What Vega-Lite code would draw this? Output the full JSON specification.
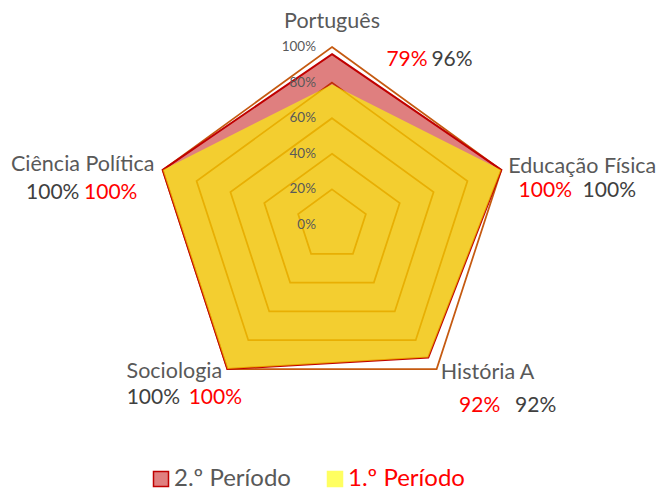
{
  "$schema": "https://vega.github.io/schema/vega-lite/v6.json",
  "width": 662,
  "height": 460,
  "padding": {"left": 0, "right": 0, "top": 0, "bottom": 32},
  "autosize": {"type": "none"},
  "background": "white",
  "config": {"view": {"stroke": null}, "font": "Lato"},
  "datasets": {
    "scores": [
      {"series": "2.º Período", "subject": "Português", "idx": 0, "value": 0.96},
      {"series": "2.º Período", "subject": "Educação Física", "idx": 1, "value": 1.0},
      {"series": "2.º Período", "subject": "História A", "idx": 2, "value": 0.92},
      {"series": "2.º Período", "subject": "Sociologia", "idx": 3, "value": 1.0},
      {"series": "2.º Período", "subject": "Ciência Política", "idx": 4, "value": 1.0},
      {"series": "1.º Período", "subject": "Português", "idx": 0, "value": 0.79},
      {"series": "1.º Período", "subject": "Educação Física", "idx": 1, "value": 1.0},
      {"series": "1.º Período", "subject": "História A", "idx": 2, "value": 0.92},
      {"series": "1.º Período", "subject": "Sociologia", "idx": 3, "value": 1.0},
      {"series": "1.º Período", "subject": "Ciência Política", "idx": 4, "value": 1.0}
    ],
    "grid": [
      {"level": 0.2, "idx": [0, 1, 2, 3, 4]},
      {"level": 0.4, "idx": [0, 1, 2, 3, 4]},
      {"level": 0.6, "idx": [0, 1, 2, 3, 4]},
      {"level": 0.8, "idx": [0, 1, 2, 3, 4]},
      {"level": 1.0, "idx": [0, 1, 2, 3, 4]}
    ],
    "ticks": [
      {"level": 0}, {"level": 0.2}, {"level": 0.4}, {"level": 0.6}, {"level": 0.8}, {"level": 1.0}
    ]
  },
  "layer": [
    {
      "data": {"name": "grid"},
      "transform": [
        {"flatten": ["idx"]},
        {"calculate": "datum.level*sin(2*PI*datum.idx/5)", "as": "x"},
        {"calculate": "datum.level*cos(2*PI*datum.idx/5)", "as": "y"}
      ],
      "mark": {"type": "line", "interpolate": "linear-closed", "stroke": "#C55A11", "strokeWidth": 1.75},
      "encoding": {
        "x": {"field": "x", "type": "quantitative", "scale": {"domain": [-1.86517, 1.85393], "nice": false, "zero": false}, "axis": null},
        "y": {"field": "y", "type": "quantitative", "scale": {"domain": [-1.32022, 1.26404], "nice": false, "zero": false}, "axis": null},
        "detail": {"field": "level"},
        "order": {"field": "idx"}
      }
    },
    {
      "data": {"name": "scores"},
      "transform": [
        {"filter": "datum.series == '2.º Período'"},
        {"calculate": "datum.value*sin(2*PI*datum.idx/5)", "as": "x"},
        {"calculate": "datum.value*cos(2*PI*datum.idx/5)", "as": "y"}
      ],
      "mark": {"type": "line", "interpolate": "linear-closed", "stroke": "#C00000", "strokeWidth": 2, "fill": "#C00000", "fillOpacity": 0.5},
      "encoding": {
        "x": {"field": "x", "type": "quantitative"},
        "y": {"field": "y", "type": "quantitative"},
        "order": {"field": "idx"}
      }
    },
    {
      "data": {"name": "scores"},
      "transform": [
        {"filter": "datum.series == '1.º Período'"},
        {"calculate": "datum.value*sin(2*PI*datum.idx/5)", "as": "x"},
        {"calculate": "datum.value*cos(2*PI*datum.idx/5)", "as": "y"}
      ],
      "mark": {"type": "line", "interpolate": "linear-closed", "stroke": null, "strokeWidth": 0, "fill": "#FFFF00", "fillOpacity": 0.62},
      "encoding": {
        "x": {"field": "x", "type": "quantitative"},
        "y": {"field": "y", "type": "quantitative"},
        "order": {"field": "idx"}
      }
    },
    {
      "data": {"name": "ticks"},
      "transform": [
        {"calculate": "0", "as": "x"},
        {"calculate": "datum.level", "as": "y"}
      ],
      "mark": {"type": "text", "align": "right", "baseline": "middle", "dx": -16, "fontSize": 13.5, "color": "#595959"},
      "encoding": {
        "x": {"field": "x", "type": "quantitative"},
        "y": {"field": "y", "type": "quantitative"},
        "text": {"field": "level", "type": "quantitative", "format": ".0%"}
      }
    },
    {
      "data": {"name": "scores"},
      "transform": [
        {"filter": "datum.series == '2.º Período'"},
        {"calculate": "sin(2*PI*datum.idx/5)", "as": "x"},
        {"calculate": "cos(2*PI*datum.idx/5)", "as": "y"}
      ],
      "mark": {"type": "text", "align": "center", "baseline": "middle", "fontSize": 21.5, "color": "#595959",
        "dx": {"expr": "[0,81,51,-53,-80][datum.idx]"},
        "dy": {"expr": "[-25,-3,4,3,-5][datum.idx]"}},
      "encoding": {
        "x": {"field": "x", "type": "quantitative"},
        "y": {"field": "y", "type": "quantitative"},
        "text": {"field": "subject"}
      }
    },
    {
      "data": {"name": "scores"},
      "transform": [
        {"filter": "datum.series == '1.º Período'"},
        {"calculate": "sin(2*PI*datum.idx/5)", "as": "x"},
        {"calculate": "cos(2*PI*datum.idx/5)", "as": "y"}
      ],
      "mark": {"type": "text", "align": "center", "baseline": "middle", "fontSize": 21, "color": "#FF0000",
        "dx": {"expr": "[75,44,43,-12,-52][datum.idx]"},
        "dy": {"expr": "[13,21,37,29,23][datum.idx]"}},
      "encoding": {
        "x": {"field": "x", "type": "quantitative"},
        "y": {"field": "y", "type": "quantitative"},
        "text": {"field": "value", "type": "quantitative", "format": ".0%"}
      }
    },
    {
      "data": {"name": "scores"},
      "transform": [
        {"filter": "datum.series == '2.º Período'"},
        {"calculate": "sin(2*PI*datum.idx/5)", "as": "x"},
        {"calculate": "cos(2*PI*datum.idx/5)", "as": "y"}
      ],
      "mark": {"type": "text", "align": "center", "baseline": "middle", "fontSize": 21, "color": "#404040",
        "dx": {"expr": "[120,108,99,-74,-110][datum.idx]"},
        "dy": {"expr": "[13,21,37,29,23][datum.idx]"}},
      "encoding": {
        "x": {"field": "x", "type": "quantitative"},
        "y": {"field": "y", "type": "quantitative"},
        "text": {"field": "value", "type": "quantitative", "format": ".0%"}
      }
    },
    {
      "data": {"name": "scores"},
      "transform": [{"filter": "false"}],
      "mark": {"type": "point", "shape": "square", "filled": true},
      "encoding": {
        "color": {
          "field": "series",
          "type": "nominal",
          "scale": {"domain": ["2.º Período", "1.º Período"], "range": ["#E07F7F", "#FFFF61"]},
          "legend": {
            "title": null,
            "orient": "none",
            "direction": "horizontal",
            "legendX": 149,
            "legendY": 467,
            "symbolType": "square",
            "symbolSize": 225,
            "symbolStrokeWidth": 1.5,
            "symbolStrokeColor": {"expr": "datum.label == '2.º Período' ? '#C00000' : '#FFFF61'"},
            "symbolOpacity": 1,
            "labelFont": "Lato",
            "labelFontSize": 24,
            "labelColor": {"expr": "datum.label == '1.º Período' ? '#FF0000' : '#595959'"},
            "labelOffset": 1,
            "columnPadding": 32,
            "padding": 0
          }
        }
      }
    }
  ]
}
